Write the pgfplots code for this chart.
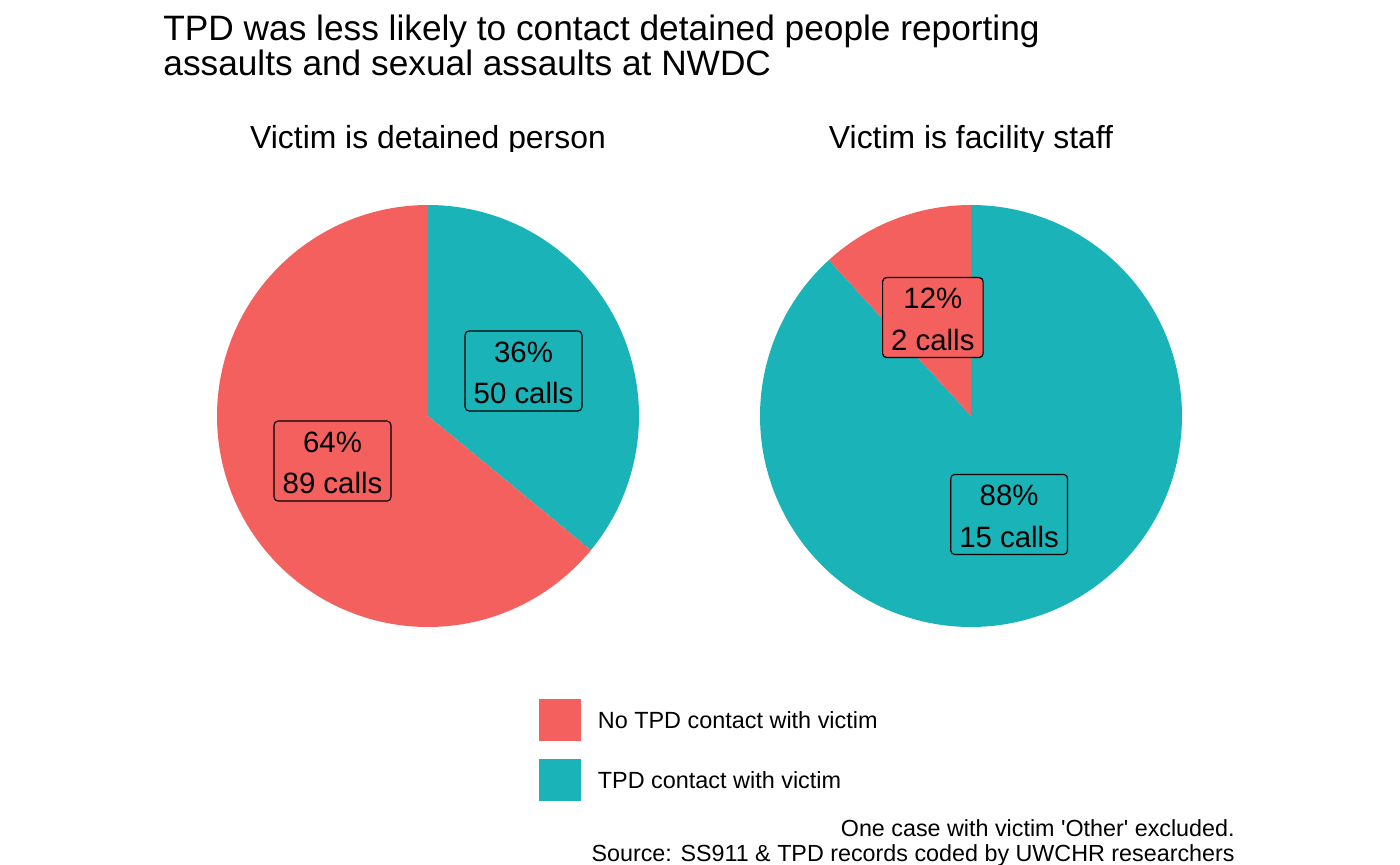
\documentclass[border=0pt]{standalone}
\usepackage{pgfplots}
\pgfplotsset{compat=1.18}
\usepackage{pgfplotstable}
\usepackage{fontspec}
\setmainfont{Liberation Sans}
\definecolor{cred}{HTML}{F4605D}
\definecolor{cteal}{HTML}{1AB3B8}

\pgfplotstableread{
panel no yes
1 89 50
2 2 15
}\calls

\begin{document}
\begin{tikzpicture}
\pgfplotstablegetelem{0}{no}\of\calls \edef\noA{\pgfplotsretval}
\pgfplotstablegetelem{0}{yes}\of\calls \edef\yesA{\pgfplotsretval}
\pgfplotstablegetelem{1}{no}\of\calls \edef\noB{\pgfplotsretval}
\pgfplotstablegetelem{1}{yes}\of\calls \edef\yesB{\pgfplotsretval}
\pgfmathsetmacro\fA{\yesA/(\noA+\yesA)}
\pgfmathsetmacro\fB{\yesB/(\noB+\yesB)}
\pgfmathsetmacro\splitA{90-360*\fA}
\pgfmathsetmacro\splitB{90-360*\fB}
\pgfmathsetmacro\midtA{90-180*\fA}
\pgfmathsetmacro\midrA{-90-180*\fA}
\pgfmathsetmacro\midtB{90-180*\fB}
\pgfmathsetmacro\midrB{-90-180*\fB}
\pgfmathtruncatemacro\pnA{round(100*(1-\fA))}
\pgfmathtruncatemacro\pyA{round(100*\fA)}
\pgfmathtruncatemacro\pnB{round(100*(1-\fB))}
\pgfmathtruncatemacro\pyB{round(100*\fB)}
\begin{axis}[hide axis, scale only axis, width=700bp, height=432.5bp,
  xmin=0, xmax=1400, ymin=0, ymax=865, y dir=reverse, clip=false]
% left pie (centre 428,416; r 211)
\addplot[fill=cteal, draw=none, domain=\splitA:90, samples=150]
  ({428+211*cos(x)},{416-211*sin(x)}) -- (axis cs:428,416) -- cycle;
\addplot[fill=cred, draw=none, domain=-270:\splitA, samples=250]
  ({428+211*cos(x)},{416-211*sin(x)}) -- (axis cs:428,416) -- cycle;
% right pie (centre 971,416)
\addplot[fill=cteal, draw=none, domain=\splitB:90, samples=300]
  ({971+211*cos(x)},{416-211*sin(x)}) -- (axis cs:971,416) -- cycle;
\addplot[fill=cred, draw=none, domain=-270:\splitB, samples=60]
  ({971+211*cos(x)},{416-211*sin(x)}) -- (axis cs:971,416) -- cycle;

\tikzset{lbl/.style={draw=black, line width=0.6bp, rounded corners=2bp,
  inner xsep=4.3bp, inner ysep=0pt, minimum height=40bp, align=center,
  font=\fontsize{14.75}{20.8}\selectfont}}
\def\tp{\rule{0pt}{12bp}}
\node[lbl, fill=cteal] at (axis cs:{428+105.6*cos(\midtA)},{416-105.6*sin(\midtA)}) {\tp\pyA\%\\\yesA{} calls};
\node[lbl, fill=cred] at (axis cs:{428+105.6*cos(\midrA)},{416-105.6*sin(\midrA)}) {\tp\pnA\%\\\noA{} calls};
\node[lbl, fill=cteal] at (axis cs:{971+105.6*cos(\midtB)},{416-105.6*sin(\midtB)}) {\tp\pyB\%\\\yesB{} calls};
\node[lbl, fill=cred] at (axis cs:{971+105.6*cos(\midrB)},{416-105.6*sin(\midrB)}) {\tp\pnB\%\\\noB{} calls};

% title
\node[anchor=base west, font=\fontsize{17.7}{21}\selectfont, inner sep=0pt] at (axis cs:163,41) {TPD was less likely to contact detained people reporting};
\node[anchor=base west, font=\fontsize{17.7}{21}\selectfont, inner sep=0pt] at (axis cs:163,76) {assaults and sexual assaults at NWDC};

% facet strips (clipped at bottom as in the original)
\begin{scope}
\clip (axis cs:0,95) rectangle (axis cs:1400,151.5);
\node[anchor=base, font=\fontsize{16}{19}\selectfont, inner sep=0pt] at (axis cs:428,149) {Victim is detained person};
\node[anchor=base, font=\fontsize{16}{19}\selectfont, inner sep=0pt] at (axis cs:971,149) {Victim is facility staff};
\end{scope}

% legend
\fill[cred] (axis cs:539,699) rectangle (axis cs:581,741);
\fill[cteal] (axis cs:539,759) rectangle (axis cs:581,801);
\node[anchor=base west, font=\fontsize{11.75}{14}\selectfont, inner sep=0pt] at (axis cs:597.5,728.3) {No TPD contact with victim};
\node[anchor=base west, font=\fontsize{11.75}{14}\selectfont, inner sep=0pt] at (axis cs:597.5,788.3) {TPD contact with victim};

% caption
\node[anchor=base east, font=\fontsize{11.7}{14}\selectfont, inner sep=0pt] at (axis cs:1235,836) {One case with victim \textquotesingle Other\textquotesingle{} excluded.};
\node[anchor=base east, font=\fontsize{11.7}{14}\selectfont, inner sep=0pt] at (axis cs:1235,861) {Source: SS911 \& TPD records coded by UWCHR researchers};

\coordinate (BL) at (axis cs:0,865);
\coordinate (TR) at (axis cs:1400,0);
\end{axis}
\pgfresetboundingbox
\path[use as bounding box] (BL) rectangle (TR);
\end{tikzpicture}
\end{document}
